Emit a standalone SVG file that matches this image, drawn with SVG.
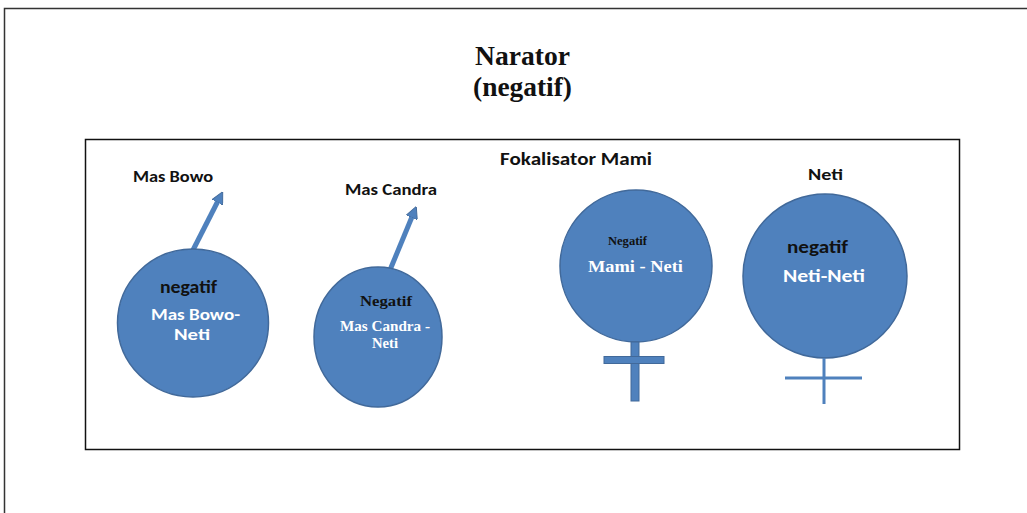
<svg xmlns="http://www.w3.org/2000/svg" width="1027" height="513" viewBox="0 0 1027 513">
<style>
.c{fill:#4F81BD;stroke:#41699a;stroke-width:1.5}
.sym{stroke:#4F81BD;fill:none}
.bar{fill:#4F81BD;stroke:#41699a;stroke-width:1}
.t{font-family:"Liberation Serif","Times New Roman",serif;font-weight:bold}
.s{font-family:"Carlito","Lato","Liberation Sans",sans-serif;font-weight:bold}
.dk{fill:#111}
.wh{fill:#fff}
.arr{stroke:#4F81BD;stroke-width:5;fill:none}
</style>
<defs>
<marker id="ah" viewBox="0 0 10 10" refX="5" refY="5" markerWidth="2.4" markerHeight="2.4" orient="auto" markerUnits="strokeWidth">
<path d="M0,0 L10,5 L0,10 z" fill="#4F81BD" stroke="#41699a" stroke-width="0.8"/>
</marker>
</defs>
<rect x="0" y="0" width="1027" height="513" fill="#fff"/>
<rect x="4.5" y="8.5" width="1030" height="520" fill="none" stroke="#333" stroke-width="1.5"/>
<rect x="85.5" y="139.5" width="874" height="310" fill="none" stroke="#111" stroke-width="1.5"/>
<g id="title">
<text class="t dk" x="475" y="65" font-size="28" textLength="95" lengthAdjust="spacingAndGlyphs">Narator</text>
<text class="t dk" x="473" y="96" font-size="27" textLength="99" lengthAdjust="spacingAndGlyphs">(negatif)</text>
</g>
<text class="s dk" x="500" y="165" font-size="17" textLength="152" lengthAdjust="spacingAndGlyphs">Fokalisator Mami</text>
<g id="connectors">
<line class="arr" x1="192" y1="252" x2="220" y2="197" marker-end="url(#ah)"/>
<line class="arr" x1="390" y1="270" x2="414" y2="212" marker-end="url(#ah)"/>
</g>
<g id="mas-bowo">
<text class="s dk" x="133" y="182" font-size="16" textLength="80" lengthAdjust="spacingAndGlyphs">Mas Bowo</text>
<ellipse class="c" cx="193" cy="323" rx="75.5" ry="74"/>
<text class="s dk" x="160" y="293" font-size="17" textLength="57" lengthAdjust="spacingAndGlyphs">negatif</text>
<text class="s wh" x="151" y="320" font-size="16" textLength="89" lengthAdjust="spacingAndGlyphs">Mas Bowo-</text>
<text class="s wh" x="174" y="340" font-size="16" textLength="36" lengthAdjust="spacingAndGlyphs">Neti</text>
</g>
<g id="mas-candra">
<text class="s dk" x="345" y="195" font-size="16" textLength="92" lengthAdjust="spacingAndGlyphs">Mas Candra</text>
<ellipse class="c" cx="378" cy="337" rx="64" ry="70"/>
<text class="t dk" x="360" y="306" font-size="14" textLength="52" lengthAdjust="spacingAndGlyphs">Negatif</text>
<text class="t wh" x="340" y="331" font-size="14" textLength="90" lengthAdjust="spacingAndGlyphs">Mas Candra -</text>
<text class="t wh" x="372" y="348" font-size="14" textLength="26" lengthAdjust="spacingAndGlyphs">Neti</text>
</g>
<g id="mami">
<circle class="c" cx="636" cy="266" r="76"/>
<rect class="bar" x="631" y="342" width="8" height="59"/>
<rect class="bar" x="604" y="356.5" width="60" height="7"/>
<rect x="631.5" y="357" width="7" height="6" fill="#4F81BD"/>
<text class="t dk" x="608" y="245" font-size="13" textLength="39" lengthAdjust="spacingAndGlyphs">Negatif</text>
<text class="t wh" x="588" y="272" font-size="17" textLength="95" lengthAdjust="spacingAndGlyphs">Mami - Neti</text>
</g>
<g id="neti">
<text class="s dk" x="808" y="180" font-size="16" textLength="35" lengthAdjust="spacingAndGlyphs">Neti</text>
<circle class="c" cx="825" cy="276" r="82"/>
<line class="sym" x1="824" y1="358" x2="824" y2="404" stroke-width="3"/>
<line class="sym" x1="785" y1="378" x2="862" y2="378" stroke-width="3"/>
<text class="s dk" x="787" y="253" font-size="18" textLength="61" lengthAdjust="spacingAndGlyphs">negatif</text>
<text class="s wh" x="783" y="282" font-size="17" textLength="82" lengthAdjust="spacingAndGlyphs">Neti-Neti</text>
</g>
</svg>
